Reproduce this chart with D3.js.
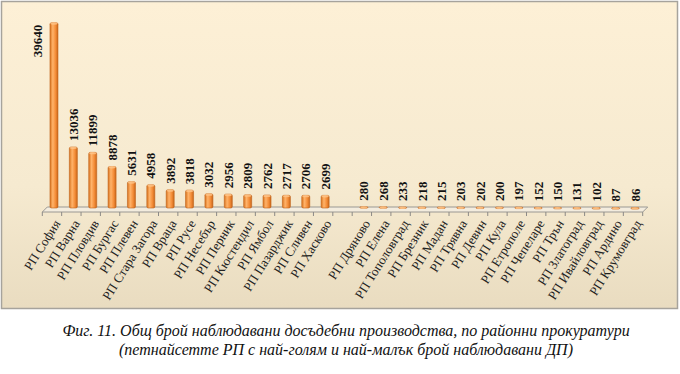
<!DOCTYPE html>
<html>
<head>
<meta charset="utf-8">
<script src="https://cdn.jsdelivr.net/npm/d3@7/dist/d3.min.js"></script>
<style>
  html, body { margin: 0; padding: 0; background: #ffffff; }
  svg { display: block; }
</style>
</head>
<body>
<svg id="chart" width="680" height="374"></svg>
<script>
// ---- data ----
const topNames = ["РП София","РП Варна","РП Пловдив","РП Бургас","РП Плевен","РП Стара Загора","РП Враца","РП Русе","РП Несебър","РП Перник","РП Кюстендил","РП Ямбол","РП Пазарджик","РП Сливен","РП Хасково"];
const topValues = [39640,13036,11899,8878,5631,4958,3892,3818,3032,2956,2809,2762,2717,2706,2699];
const bottomNames = ["РП Дряново","РП Елена","РП Тополовград","РП Брезник","РП Мадан","РП Трявна","РП Девин","РП Кула","РП Етрополе","РП Чепеларе","РП Трън","РП Златоград","РП Ивайловград","РП Ардино","РП Крумовград"];
const bottomValues = [280,268,233,218,215,203,202,200,197,152,150,131,102,87,86];
const captionLines = ["Фиг. 11. Общ брой наблюдавани досъдебни производства, по районни прокуратури","(петнайсетте РП с най-голям и най-малък брой наблюдавани ДП)"];
const yMax = 40000;

const rows = topNames.map((n,i)=>({name:n, value:topValues[i]}))
  .concat([{name:"__gap__", value:null}])
  .concat(bottomNames.map((n,i)=>({name:n, value:bottomValues[i]})));

const svg = d3.select("#chart");
const defs = svg.append("defs");

const bg = defs.append("linearGradient").attr("id","bg").attr("x1",0).attr("y1",0).attr("x2",0).attr("y2",1);
bg.append("stop").attr("offset","0%").attr("stop-color","#fdf0d6");
bg.append("stop").attr("offset","60%").attr("stop-color","#f6ead0");
bg.append("stop").attr("offset","100%").attr("stop-color","#e9dcc0");

const bar = defs.append("linearGradient").attr("id","bar").attr("x1",0).attr("y1",0).attr("x2",1).attr("y2",0);
bar.append("stop").attr("offset","0%").attr("stop-color","#d9741f");
bar.append("stop").attr("offset","35%").attr("stop-color","#ffb36a");
bar.append("stop").attr("offset","70%").attr("stop-color","#f48d38");
bar.append("stop").attr("offset","100%").attr("stop-color","#c9661a");

// panel
svg.append("rect").attr("x",1.5).attr("y",1.5).attr("width",676).attr("height",307)
  .attr("fill","url(#bg)").attr("stroke","#a6a39c").attr("stroke-width",1.5);

const x = d3.scaleBand().domain(rows.map(d=>d.name)).range([44.3, 644.7]).paddingInner(0).paddingOuter(0);
const y = d3.scaleLinear().domain([0, yMax]).range([208, 21]);
const bw = 8;
const depthX = 5, depthY = -5;
const floorY = y(0) + 4;

// floor
const x0 = x.range()[0] - 2, x1 = x.range()[1] - 2;
svg.append("path")
  .attr("d", `M${x0},${floorY} L${x1},${floorY} L${x1+depthX},${floorY+depthY} L${x0+depthX},${floorY+depthY} Z`)
  .attr("fill","#f3ecde").attr("stroke","#9a9893").attr("stroke-width",1);

// ticks
const tickPos = d3.range(rows.length+1).map(i => x.range()[0] + i*x.step() - 2);
svg.append("g").selectAll("line").data(tickPos).join("line")
  .attr("x1",d=>d).attr("x2",d=>d).attr("y1",floorY).attr("y2",floorY+4)
  .attr("stroke","#8c8a86").attr("stroke-width",1);

const data = rows.filter(d=>d.value!==null);

// bars
const g = svg.append("g");
g.selectAll("rect.b").data(data).join("rect").attr("class","b")
  .attr("x", d=>x(d.name)+x.bandwidth()/2 - bw/2)
  .attr("y", d=>y(d.value))
  .attr("width", bw)
  .attr("height", d=>Math.max(1.5, y(0)-y(d.value)))
  .attr("rx", 1.5)
  .attr("fill","url(#bar)")
  .attr("stroke","#c0621a").attr("stroke-width",0.6);
g.selectAll("ellipse.t").data(data).join("ellipse").attr("class","t")
  .attr("cx", d=>x(d.name)+x.bandwidth()/2)
  .attr("cy", d=>y(d.value)+0.8)
  .attr("rx", bw/2 - 0.5).attr("ry", 1.2)
  .attr("fill","#ffc58a").attr("opacity",0.8);

// value labels
svg.append("g").selectAll("text").data(data).join("text")
  .attr("transform", (d,i) => {
    const cx = x(d.name)+x.bandwidth()/2;
    if (i === 0) return `translate(${cx-17},${y(d.value)+2}) rotate(-90)`;
    return `translate(${cx},${y(d.value)-6}) rotate(-90)`;
  })
  .attr("text-anchor", (d,i)=> i===0 ? "end" : "start")
  .attr("dy","0.35em")
  .attr("font-family","'Liberation Serif', 'Times New Roman', serif")
  .attr("font-weight","bold")
  .attr("font-size","13px")
  .attr("fill","#111")
  .text(d=>d.value);

// category labels
svg.append("g").selectAll("text").data(data).join("text")
  .attr("transform", d => `translate(${x(d.name)+x.bandwidth()/2+3},${floorY+9}) rotate(-58)`)
  .attr("text-anchor","end")
  .attr("dy","0.35em")
  .attr("font-family","'Liberation Serif', 'Times New Roman', serif")
  .attr("font-size","13px")
  .attr("fill","#222")
  .text(d=>d.name);

// caption
svg.append("g").selectAll("text").data(captionLines).join("text")
  .attr("x", 346)
  .attr("y", (d,i)=>336 + i*19)
  .attr("text-anchor","middle")
  .attr("font-family","'Liberation Serif', 'Times New Roman', serif")
  .attr("font-style","italic")
  .attr("font-size","16px")
  .attr("fill","#111")
  .text(d=>d);
</script>
</body>
</html>
